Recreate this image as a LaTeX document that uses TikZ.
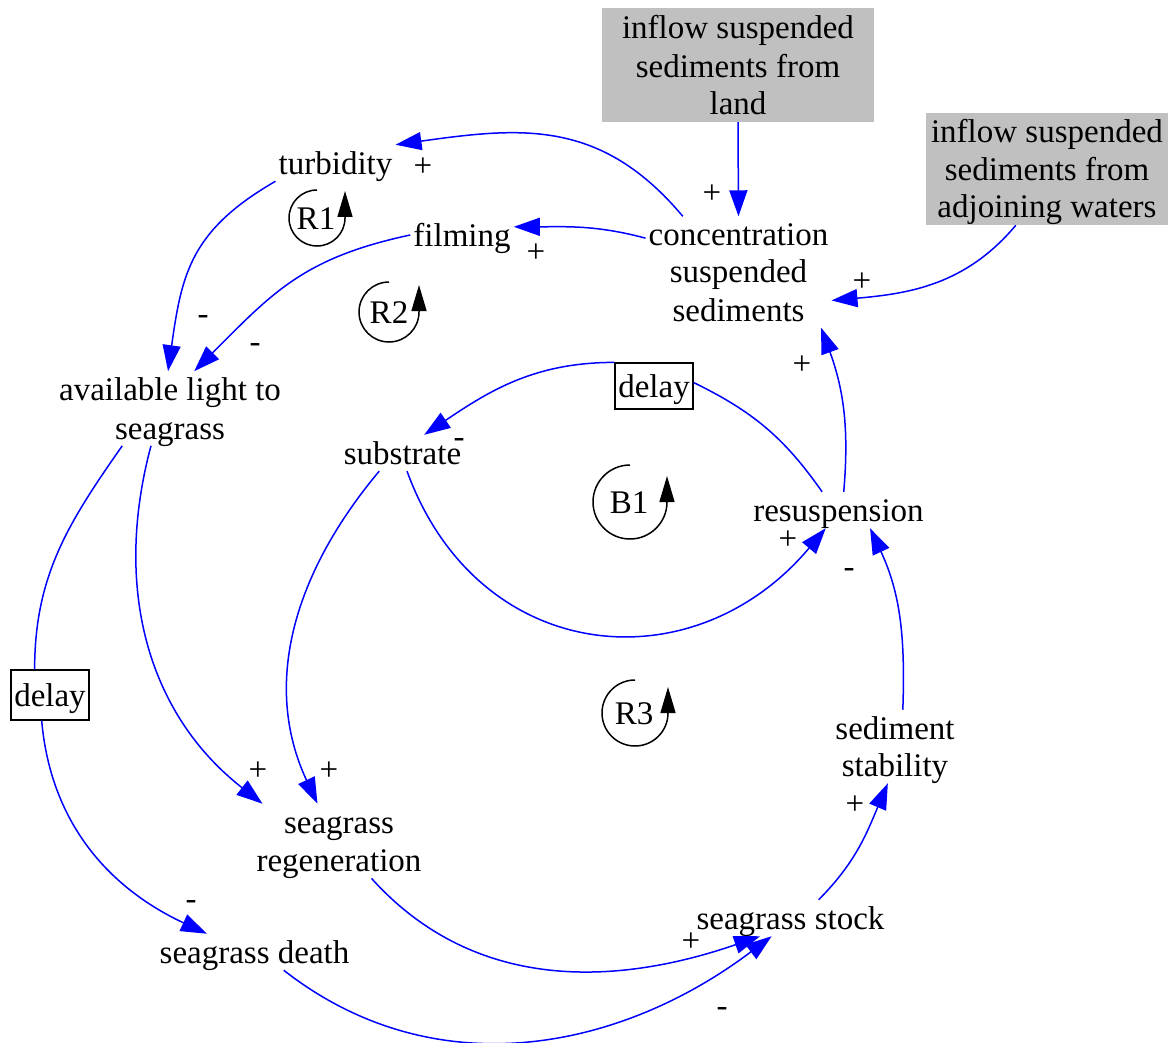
\documentclass[tikz,border=0pt]{standalone}
\usepackage{fontspec}
\setmainfont{Liberation Serif}
\usetikzlibrary{arrows.meta}
\definecolor{srcgray}{RGB}{192,192,192}
% uniform line strut: 30pt above, 7pt below the baseline
\newcommand\lnst{\rule[-7pt]{0pt}{37pt}}
\begin{document}
\begin{tikzpicture}[x=1pt,y=1pt,
  txt/.style={font=\fontsize{33}{37}\selectfont},
  var/.style={txt, inner xsep=3pt, inner ysep=-0.5pt, align=center},
  src/.style={var, fill=srcgray, inner sep=0pt},
  delaybox/.style={txt, draw=black, line width=1.2pt, fill=white, inner sep=0pt,
    minimum width=78pt},
  pol/.style={txt, inner sep=0pt},
  link/.style={draw=blue, line width=1.5pt, -{Triangle[length=26pt,width=18pt]}},
  linkseg/.style={draw=blue, line width=1.5pt},
  loopmark/.style={draw=black, line width=1.5pt, -{Triangle[length=26pt,width=15pt]}}
]
\useasboundingbox (0,0) rectangle (1168,-1043);

% exogenous sources
\node[src, minimum width=272pt, minimum height=114pt] (land) at (738,-65)
  {\lnst inflow suspended\\\lnst sediments from\\\lnst land};
\node[src, minimum width=242pt, minimum height=110pt] (adj) at (1047,-169)
  {\lnst inflow suspended\\\lnst sediments from\\\lnst adjoining waters};

% variables
\node[var] (conc)  at (738.5,-272) {\lnst concentration\\\lnst suspended\\\lnst sediments};
\node[var] (turb)  at (335.5,-163) {\lnst turbidity};
\node[var] (film)  at (462,-235)   {\lnst filming};
\node[var] (avl)   at (170,-408.5) {\lnst available light to\\\lnst seagrass};
\node[var] (sub)   at (402.5,-453) {\lnst substrate};
\node[var] (res)   at (838.5,-510) {\lnst resuspension};
\node[var] (stab)  at (895,-746.5) {\lnst sediment\\\lnst stability};
\node[var] (regen) at (339,-841)   {\lnst seagrass\\\lnst regeneration};
\node[var] (stock) at (790.5,-918) {\lnst seagrass stock};
\node[var] (death) at (254.5,-952) {\lnst seagrass death};

% delay marks
\node[delaybox, minimum height=46pt] (dT) at (654,-386) {\lnst delay};
\node[delaybox, minimum height=50pt] (dL) at (50,-695)  {\lnst delay};

% causal links
\draw[link] (land.south) -- (conc.north);
\draw[link] (adj.-119) to[out=230, in=5] (conc.-17);
\draw[link] (conc.135) to[out=130, in=8, looseness=1.1] (turb.north east);
\draw[link] (conc.160) to[out=165, in=0] (film.9);
\draw[link] (turb.south west) to[out=210, in=82, looseness=1.15] (avl.93);
\draw[link] (film.west) to[out=192, in=45, looseness=1.1] (avl.57);
\draw[link] (res.74) to[out=85, in=-70] (conc.-34);
\draw[linkseg] (res.132) to[out=125, in=-26] (dT.5);
\draw[link] (dT.north west) to[out=180, in=34] (sub.40);
\draw[link] (sub.-76) to[out=-70, in=230, looseness=1.25] (res.-125);
\draw[link] (stab.78) to[out=88, in=-65] (res.-30.5);
\draw[link] (stock.33) to[out=45, in=-113] (stab.-101);
\draw[linkseg] (avl.-142) to[out=235, in=90] (dL.121);
\draw[link] (dL.-108) to[out=-85, in=155] (death.159.6);
\draw[link] (avl.-117) to[out=-105, in=142] (regen.154);
\draw[link] (sub.-142.5) to[out=-130, in=115] (regen.120);
\draw[link] (regen.-49) to[out=-48, in=199] (stock.-149.5);
\draw[link] (death.-32) to[out=-38, in=217] (stock.-136);

% polarities
\node[pol] (p1)  at (712,-192)  {\lnst +};
\node[pol] (p2)  at (862,-280)  {\lnst +};
\node[pol] (p3)  at (423,-165)  {\lnst +};
\node[pol] (p4)  at (536,-251)  {\lnst +};
\node[pol] (p5)  at (203,-313)  {\lnst -};
\node[pol] (p6)  at (255,-341)  {\lnst -};
\node[pol] (p7)  at (802,-363)  {\lnst +};
\node[pol] (p8)  at (459,-436)  {\lnst -};
\node[pol] (p9)  at (788,-538)  {\lnst +};
\node[pol] (p10) at (849,-566)  {\lnst -};
\node[pol] (p11) at (855,-803)  {\lnst +};
\node[pol] (p12) at (191,-898)  {\lnst -};
\node[pol] (p13) at (258,-769)  {\lnst +};
\node[pol] (p14) at (329,-769)  {\lnst +};
\node[pol] (p15) at (691,-940)  {\lnst +};
\node[pol] (p16) at (722,-1005) {\lnst -};

% loop identifiers
\node[pol] (r1) at (316,-218) {\lnst R1};
\node[pol] (r2) at (389,-312) {\lnst R2};
\node[pol] (b1) at (629,-502) {\lnst B1};
\node[pol] (r3) at (634,-713) {\lnst R3};
\draw[loopmark] (r1.center) ++(1,28) arc[start angle=90, end angle=360, radius=28] -- ++(0,27);
\draw[loopmark] (r2.center) ++(0,30) arc[start angle=90, end angle=360, radius=30] -- ++(0,27);
\draw[loopmark] (b1.center) ++(1,37) arc[start angle=90, end angle=360, radius=37] -- ++(0,26);
\draw[loopmark] (r3.center) ++(1,33) arc[start angle=90, end angle=360, radius=33] -- ++(0,26);
\end{tikzpicture}
\end{document}
